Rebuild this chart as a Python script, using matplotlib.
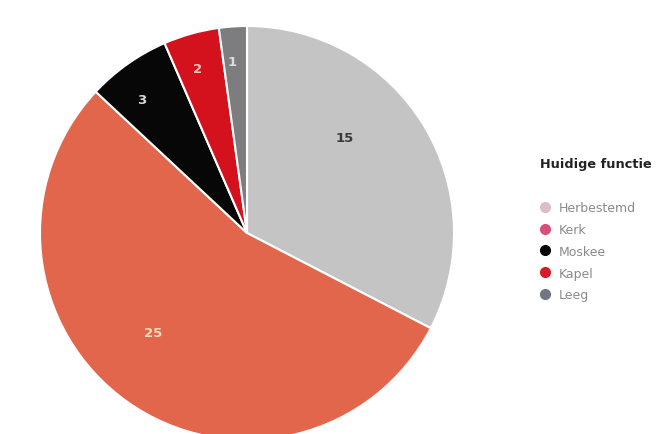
import numpy as np
import matplotlib.pyplot as plt
from matplotlib.lines import Line2D

categories = ["Herbestemd", "Kerk", "Moskee", "Kapel", "Leeg"]
counts = [15, 25, 3, 2, 1]
legend_title = "Huidige functie"

slice_colors = ["#c4c4c4", "#e2664b", "#070707", "#d4121d", "#7d7d80"]
legend_colors = ["#d9bec6", "#d84f78", "#050505", "#d41c2a", "#6f7780"]
label_colors = ["#3a3a3a", "#f6dcbf", "#d8d8d8", "#f6c2b4", "#dcdcdc"]
label_dist = [0.66, 0.66, 0.82, 0.83, 0.83]
label_shift = [13, -8, 3, 1, 1]  # degrees, nudges label off the slice middle

fig = plt.figure(figsize=(6.57, 4.35), dpi=100)
fig.patch.set_facecolor("white")
ax = fig.add_axes([40 / 657, -6 / 435, 414 / 657, 414 / 435])

wedges, _ = ax.pie(counts, colors=slice_colors, startangle=90, counterclock=False,
                   wedgeprops=dict(edgecolor="white", linewidth=1.5))
ax.set_xlim(-1, 1)
ax.set_ylim(-1, 1)
ax.set_aspect("equal")
ax.axis("off")

for w, n, c, d, s in zip(wedges, counts, label_colors, label_dist, label_shift):
    ang = np.deg2rad((w.theta1 + w.theta2) / 2 + s)
    ax.text(d * np.cos(ang), d * np.sin(ang), str(n), color=c, fontsize=9.5,
            fontweight="bold", ha="center", va="center", family="DejaVu Sans")

# legend: title as separate text, items below with a wide gap
fig.text(540 / 657, 1 - 165 / 435, legend_title, fontsize=9.3, fontweight="bold",
         color="#222222", ha="left", va="center")

handles = [Line2D([], [], marker="o", linestyle="none", markersize=7,
                  markerfacecolor=c, markeredgecolor=c) for c in legend_colors]
leg = fig.legend(handles, categories, loc="upper left",
                 bbox_to_anchor=(539 / 657, 1 - 202 / 435), frameon=False,
                 fontsize=9, handletextpad=0.6, labelspacing=0.71,
                 handlelength=1.0, borderaxespad=0, borderpad=0)
for t in leg.get_texts():
    t.set_color("#8a8a8a")

fig.savefig("out.png", dpi=100, facecolor="white")
